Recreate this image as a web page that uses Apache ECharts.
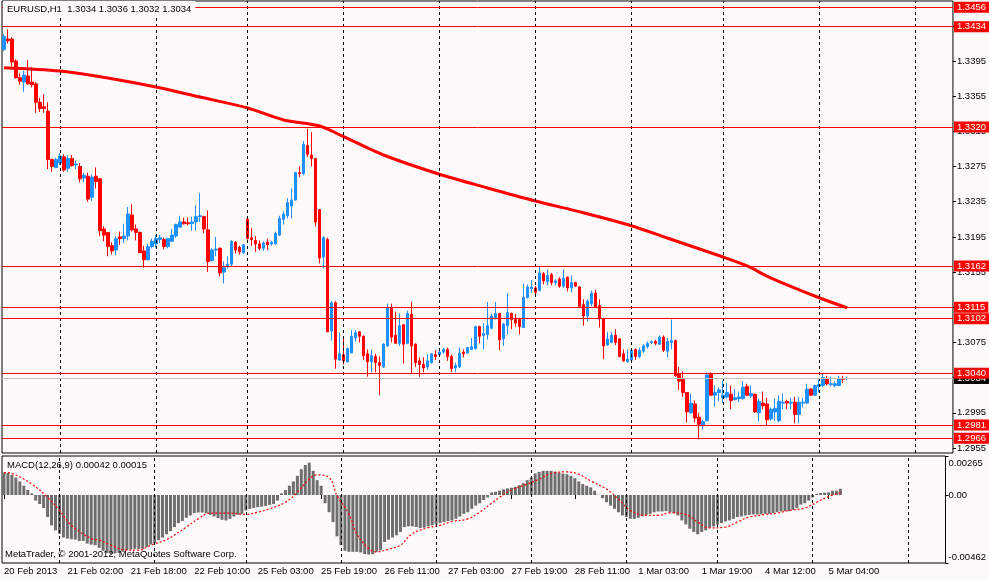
<!DOCTYPE html>
<html>
<head>
<meta charset="utf-8">
<script src="https://cdn.jsdelivr.net/npm/echarts@6/dist/echarts.min.js"></script>
<style>
html, body { margin: 0; padding: 0; background: #fffafa; }
#chart { width: 989px; height: 580px; }
</style>
</head>
<body>
<div id="chart"></div>
<script>
// EURUSD H1 bars, [open, high, low, close]
const ohlc = [
  [1.3408,1.3426,1.3406,1.3423],[1.3420,1.3431,1.3415,1.3418],[1.3420,1.3422,1.3389,1.3394],[1.3395,1.3397,1.3375,1.3376],
  [1.3376,1.3381,1.3368,1.3372],[1.3371,1.3384,1.3360,1.3379],[1.3378,1.3396,1.3368,1.3369],[1.3371,1.3388,1.3365,1.3368],
  [1.3369,1.3371,1.3336,1.3348],[1.3348,1.3353,1.3337,1.3341],[1.3343,1.3357,1.3336,1.3341],[1.3338,1.3348,1.3272,1.3283],
  [1.3283,1.3284,1.3269,1.3275],[1.3274,1.3285,1.3273,1.3283],[1.3279,1.3290,1.3277,1.3287],[1.3286,1.3289,1.3269,1.3271],
  [1.3273,1.3288,1.3269,1.3284],[1.3284,1.3288,1.3275,1.3276],[1.3277,1.3282,1.3272,1.3278],[1.3275,1.3279,1.3257,1.3261],
  [1.3262,1.3268,1.3257,1.3265],[1.3264,1.3268,1.3235,1.3238],[1.3240,1.3266,1.3236,1.3263],[1.3264,1.3274,1.3250,1.3258],
  [1.3261,1.3262,1.3196,1.3202],[1.3204,1.3207,1.3190,1.3197],[1.3200,1.3200,1.3173,1.3184],[1.3185,1.3189,1.3175,1.3179],
  [1.3180,1.3196,1.3174,1.3193],[1.3195,1.3201,1.3186,1.3193],[1.3193,1.3210,1.3188,1.3196],[1.3196,1.3229,1.3191,1.3221],
  [1.3220,1.3232,1.3201,1.3203],[1.3204,1.3209,1.3191,1.3200],[1.3200,1.3201,1.3177,1.3177],[1.3179,1.3185,1.3160,1.3169],
  [1.3169,1.3187,1.3168,1.3184],[1.3184,1.3193,1.3182,1.3190],[1.3187,1.3197,1.3183,1.3193],[1.3192,1.3197,1.3188,1.3194],
  [1.3192,1.3194,1.3181,1.3184],[1.3184,1.3194,1.3182,1.3193],[1.3190,1.3204,1.3190,1.3197],[1.3196,1.3210,1.3194,1.3209],
  [1.3206,1.3219,1.3206,1.3212],[1.3212,1.3217,1.3209,1.3210],[1.3211,1.3217,1.3208,1.3210],[1.3210,1.3218,1.3202,1.3212],
  [1.3212,1.3231,1.3202,1.3218],[1.3218,1.3245,1.3212,1.3219],[1.3218,1.3219,1.3199,1.3204],[1.3203,1.3225,1.3155,1.3167],
  [1.3168,1.3182,1.3167,1.3180],[1.3180,1.3195,1.3173,1.3181],[1.3182,1.3183,1.3150,1.3154],[1.3155,1.3167,1.3142,1.3160],
  [1.3161,1.3173,1.3159,1.3164],[1.3164,1.3191,1.3161,1.3190],[1.3189,1.3190,1.3176,1.3180],[1.3183,1.3185,1.3175,1.3178],
  [1.3177,1.3187,1.3176,1.3186],[1.3215,1.3217,1.3192,1.3193],[1.3194,1.3205,1.3185,1.3192],[1.3191,1.3196,1.3178,1.3187],
  [1.3187,1.3191,1.3180,1.3182],[1.3182,1.3190,1.3179,1.3188],[1.3189,1.3193,1.3180,1.3186],[1.3187,1.3190,1.3185,1.3189],
  [1.3187,1.3201,1.3186,1.3199],[1.3197,1.3219,1.3196,1.3216],[1.3215,1.3224,1.3209,1.3221],[1.3219,1.3239,1.3216,1.3234],
  [1.3230,1.3250,1.3216,1.3237],[1.3237,1.3269,1.3236,1.3268],[1.3268,1.3275,1.3263,1.3267],[1.3267,1.3304,1.3265,1.3300],
  [1.3299,1.3318,1.3286,1.3289],[1.3288,1.3314,1.3275,1.3284],[1.3284,1.3285,1.3207,1.3212],[1.3226,1.3226,1.3165,1.3171],
  [1.3172,1.3196,1.3159,1.3194],[1.3192,1.3194,1.3087,1.3087],[1.3088,1.3122,1.3077,1.3120],[1.3120,1.3122,1.3045,1.3056],
  [1.3055,1.3086,1.3054,1.3062],[1.3061,1.3081,1.3050,1.3054],[1.3053,1.3069,1.3052,1.3068],[1.3063,1.3089,1.3063,1.3082],
  [1.3080,1.3089,1.3076,1.3086],[1.3087,1.3088,1.3075,1.3082],[1.3082,1.3083,1.3055,1.3060],[1.3062,1.3067,1.3036,1.3053],
  [1.3053,1.3067,1.3041,1.3060],[1.3059,1.3062,1.3041,1.3052],[1.3052,1.3059,1.3015,1.3049],[1.3047,1.3074,1.3046,1.3073],
  [1.3071,1.3119,1.3070,1.3114],[1.3114,1.3119,1.3075,1.3081],[1.3083,1.3110,1.3074,1.3074],[1.3074,1.3108,1.3071,1.3094],
  [1.3095,1.3096,1.3051,1.3073],[1.3074,1.3111,1.3073,1.3108],[1.3107,1.3121,1.3039,1.3071],[1.3073,1.3074,1.3047,1.3052],
  [1.3054,1.3058,1.3036,1.3050],[1.3050,1.3058,1.3041,1.3046],[1.3047,1.3062,1.3044,1.3054],[1.3052,1.3063,1.3051,1.3062],
  [1.3061,1.3066,1.3055,1.3059],[1.3061,1.3067,1.3059,1.3064],[1.3064,1.3069,1.3062,1.3067],[1.3067,1.3069,1.3054,1.3059],
  [1.3059,1.3061,1.3041,1.3045],[1.3046,1.3052,1.3041,1.3049],[1.3047,1.3069,1.3046,1.3063],[1.3064,1.3067,1.3058,1.3062],
  [1.3063,1.3070,1.3062,1.3069],[1.3067,1.3080,1.3067,1.3070],[1.3068,1.3094,1.3067,1.3093],[1.3093,1.3094,1.3074,1.3082],
  [1.3083,1.3097,1.3067,1.3085],[1.3084,1.3121,1.3078,1.3094],[1.3091,1.3108,1.3090,1.3105],[1.3102,1.3121,1.3101,1.3108],
  [1.3108,1.3108,1.3066,1.3078],[1.3079,1.3097,1.3071,1.3096],[1.3094,1.3131,1.3084,1.3109],[1.3108,1.3109,1.3090,1.3101],
  [1.3101,1.3107,1.3093,1.3097],[1.3101,1.3103,1.3084,1.3093],[1.3092,1.3142,1.3092,1.3126],[1.3126,1.3141,1.3125,1.3138],
  [1.3136,1.3146,1.3131,1.3138],[1.3137,1.3139,1.3127,1.3132],[1.3134,1.3161,1.3133,1.3154],[1.3153,1.3155,1.3141,1.3145],
  [1.3144,1.3158,1.3140,1.3151],[1.3152,1.3154,1.3140,1.3143],[1.3143,1.3147,1.3140,1.3145],[1.3147,1.3149,1.3137,1.3139],
  [1.3139,1.3158,1.3137,1.3148],[1.3149,1.3150,1.3133,1.3137],[1.3137,1.3151,1.3132,1.3143],[1.3143,1.3144,1.3138,1.3139],
  [1.3138,1.3139,1.3114,1.3116],[1.3118,1.3124,1.3094,1.3105],[1.3105,1.3124,1.3099,1.3122],[1.3119,1.3134,1.3116,1.3131],
  [1.3131,1.3135,1.3114,1.3115],[1.3117,1.3124,1.3092,1.3102],[1.3102,1.3103,1.3056,1.3071],[1.3072,1.3087,1.3071,1.3079],
  [1.3075,1.3087,1.3074,1.3083],[1.3083,1.3090,1.3072,1.3075],[1.3079,1.3080,1.3058,1.3059],[1.3062,1.3067,1.3053,1.3054],
  [1.3053,1.3067,1.3052,1.3056],[1.3055,1.3068,1.3054,1.3066],[1.3067,1.3068,1.3055,1.3059],[1.3059,1.3069,1.3057,1.3066],
  [1.3065,1.3073,1.3063,1.3071],[1.3070,1.3076,1.3068,1.3074],[1.3075,1.3077,1.3073,1.3076],[1.3076,1.3078,1.3072,1.3074],
  [1.3073,1.3083,1.3072,1.3081],[1.3081,1.3083,1.3064,1.3066],[1.3065,1.3080,1.3058,1.3076],[1.3075,1.3101,1.3067,1.3077],
  [1.3077,1.3078,1.3036,1.3037],[1.3039,1.3047,1.3021,1.3031],[1.3033,1.3042,1.3013,1.3018],[1.3018,1.3018,1.2984,1.2996],
  [1.2995,1.3017,1.2994,1.3006],[1.3005,1.3009,1.2984,1.2989],[1.2990,1.2995,1.2966,1.2982],[1.2981,1.2987,1.2976,1.2985],
  [1.2986,1.3041,1.2985,1.3038],[1.3039,1.3041,1.3014,1.3015],[1.3015,1.3026,1.3002,1.3018],[1.3018,1.3024,1.3008,1.3021],
  [1.3012,1.3031,1.3006,1.3015],[1.3013,1.3029,1.3011,1.3018],[1.3016,1.3026,1.2999,1.3009],[1.3010,1.3022,1.3009,1.3012],
  [1.3011,1.3019,1.3007,1.3013],[1.3011,1.3031,1.3010,1.3024],[1.3025,1.3028,1.3014,1.3015],[1.3014,1.3026,1.3012,1.3017],
  [1.3016,1.3017,1.2995,1.2996],[1.2995,1.3011,1.2985,1.3008],[1.3006,1.3019,1.2999,1.3003],[1.3005,1.3012,1.2981,1.2987],
  [1.2988,1.3001,1.2986,1.2999],[1.2996,1.3011,1.2986,1.3000],[1.2986,1.3015,1.2984,1.3008],[1.3006,1.3017,1.2999,1.3007],
  [1.3008,1.3010,1.2999,1.3006],[1.3006,1.3012,1.2999,1.3007],[1.3007,1.3013,1.2983,1.2993],[1.2993,1.3013,1.2983,1.3007],
  [1.3006,1.3012,1.3001,1.3007],[1.3006,1.3028,1.3005,1.3022],[1.3022,1.3023,1.3014,1.3015],[1.3015,1.3027,1.3014,1.3026],
  [1.3025,1.3033,1.3018,1.3027],[1.3026,1.3040,1.3024,1.3035],[1.3034,1.3037,1.3026,1.3028],[1.3027,1.3036,1.3025,1.3028],
  [1.3026,1.3031,1.3024,1.3028],[1.3026,1.3037,1.3025,1.3034],[1.3034,1.3037,1.3029,1.3033],[1.3034,1.3036,1.3032,1.3034]
];

// MACD(12,26,9) main line (histogram), one value per bar
const macdHist = [
  0.00153,0.00150,0.00137,0.00119,0.00092,0.00063,0.00034,0.00011,-0.00038,-0.00061,
  -0.00088,-0.00150,-0.00206,-0.00240,-0.00263,-0.00289,-0.00296,-0.00301,-0.00303,-0.00312,
  -0.00312,-0.00330,-0.00337,-0.00341,-0.00359,-0.00379,-0.00393,-0.00402,-0.00397,-0.00393,
  -0.00386,-0.00375,-0.00370,-0.00366,-0.00366,-0.00366,-0.00352,-0.00337,-0.00325,-0.00307,
  -0.00289,-0.00267,-0.00245,-0.00218,-0.00191,-0.00177,-0.00155,-0.00139,-0.00123,-0.00119,
  -0.00119,-0.00123,-0.00135,-0.00146,-0.00157,-0.00168,-0.00173,-0.00162,-0.00146,-0.00135,
  -0.00128,-0.00105,-0.00094,-0.00088,-0.00083,-0.00079,-0.00074,-0.00067,-0.00061,-0.00038,
  0.00011,0.00034,0.00063,0.00092,0.00130,0.00175,0.00204,0.00220,0.00164,0.00101,
  0.00063,-0.00056,-0.00117,-0.00184,-0.00281,-0.00341,-0.00379,-0.00386,-0.00386,-0.00386,
  -0.00390,-0.00402,-0.00404,-0.00402,-0.00386,-0.00375,-0.00319,-0.00303,-0.00289,-0.00274,
  -0.00251,-0.00218,-0.00213,-0.00213,-0.00218,-0.00224,-0.00222,-0.00213,-0.00206,-0.00200,
  -0.00191,-0.00184,-0.00177,-0.00173,-0.00162,-0.00146,-0.00128,-0.00117,-0.00094,-0.00072,
  -0.00056,-0.00034,-0.00016,0.00018,0.00022,0.00029,0.00038,0.00045,0.00049,0.00056,
  0.00067,0.00081,0.00101,0.00119,0.00146,0.00157,0.00164,0.00164,0.00164,0.00159,
  0.00153,0.00146,0.00141,0.00130,0.00114,0.00092,0.00074,0.00063,0.00052,0.00029,
  0.00002,-0.00022,-0.00049,-0.00072,-0.00094,-0.00117,-0.00139,-0.00150,-0.00162,-0.00162,
  -0.00155,-0.00144,-0.00135,-0.00128,-0.00117,-0.00112,-0.00112,-0.00110,-0.00117,-0.00123,
  -0.00139,-0.00173,-0.00200,-0.00229,-0.00251,-0.00267,-0.00251,-0.00240,-0.00222,-0.00213,
  -0.00200,-0.00191,-0.00180,-0.00173,-0.00162,-0.00150,-0.00146,-0.00139,-0.00135,-0.00132,
  -0.00132,-0.00132,-0.00128,-0.00128,-0.00123,-0.00117,-0.00112,-0.00110,-0.00110,-0.00101,
  -0.00088,-0.00065,-0.00056,-0.00038,-0.00016,0.00007,0.00013,0.00016,0.00018,0.00029,
  0.00029,0.00042
];

// MACD signal line, read at these bars
const signalIdx = [0,2,7,11,14,17,22,24,27,31,34,37,41,46,49,52,57,61,64,67,71,74,77,79,82,84,87,89,92,94,97,
  100,103,107,110,113,117,120,123,125,128,132,135,138,142,145,148,152,155,158,162,165,168,172,175,178,182,185,188,
  192,195,198,202,205,208,211];
const signalVal = [0.00153,0.00146,0.00074,-0.00016,-0.00105,-0.00206,-0.00296,-0.00307,-0.00341,-0.00375,-0.00375,
  -0.00341,-0.00303,-0.00218,-0.00162,-0.00123,-0.00123,-0.00132,-0.00117,-0.00094,-0.00049,0.00018,0.00108,0.00137,
  0.00119,-0.00004,-0.00128,-0.00263,-0.00364,-0.00386,-0.00368,-0.00341,-0.00263,-0.00222,-0.00206,-0.00180,-0.00162,
  -0.00117,-0.00056,-0.00016,0.00034,0.00074,0.00108,0.00146,0.00157,0.00141,0.00096,0.00040,-0.00027,-0.00105,-0.00139,
  -0.00139,-0.00121,-0.00132,-0.00184,-0.00224,-0.00218,-0.00184,-0.00150,-0.00132,-0.00123,-0.00105,-0.00088,-0.00049,
  -0.00011,0.00015];

// long moving average, read at these bars
const maIdx = [0,14,26,38,49,61,70,79,85,95,109,121,133,145,157,166,180,186,192,204,211];
const maVal = [1.33874,1.33836,1.33757,1.33654,1.33540,1.33416,1.33280,1.33211,1.33089,1.32881,1.32662,1.32506,
  1.32358,1.32225,1.32077,1.31937,1.31721,1.31619,1.31481,1.31258,1.31144];

const levels = [1.3456, 1.3434, 1.3320, 1.3162, 1.3115, 1.3102, 1.3040, 1.2981, 1.2966];
const bidLevel = 1.3034;
const priceTicks = [1.2955, 1.2995, 1.3035, 1.3075, 1.3115, 1.3155, 1.3195, 1.3235, 1.3275, 1.3315, 1.3355, 1.3395, 1.3435];
const macdTicks = [-0.00462, 0, 0.00265];
const daySeparators = [14, 38, 61, 85, 109, 133, 157, 180, 204, 228];
const timeIdx = [0, 16, 32, 48, 64, 80, 96, 112, 128, 144, 160, 176, 192, 208];
const timeText = ['20 Feb 2013', '21 Feb 02:00', '21 Feb 18:00', '22 Feb 10:00', '25 Feb 03:00', '25 Feb 19:00',
  '26 Feb 11:00', '27 Feb 03:00', '27 Feb 19:00', '28 Feb 11:00', '1 Mar 03:00', '1 Mar 19:00', '4 Mar 12:00', '5 Mar 04:00'];
const SLOTS = 238; // bars plus the empty shift area on the right

const categories = [];
for (let i = 0; i < SLOTS; i++) categories.push(String(i));

const FONT = 'Tahoma, "Liberation Sans", sans-serif';
const BG = '#fffafa';
const BULL = '#1e90ff';
const BEAR = '#ff0000';

const sepLines = daySeparators.map(i => ({
  xAxis: i,
  lineStyle: { color: '#000', type: [3, 3], width: 1 },
  label: { show: false }
}));

const levelLines = levels.map(v => ({
  yAxis: v,
  lineStyle: { color: '#ff0000', type: 'solid', width: 1 },
  label: { backgroundColor: '#ff0000', color: '#fff' }
}));
levelLines.unshift({
  yAxis: bidLevel,
  lineStyle: { color: '#c0c0c0', type: 'solid', width: 1 },
  label: { backgroundColor: '#000', color: '#fff' }
});

const myChart = echarts.init(document.getElementById('chart'));
const option = {
  animation: false,
  backgroundColor: BG,
  textStyle: { fontFamily: FONT },
  grid: [
    { left: 2, right: 36, top: 1, height: 452, show: true, borderColor: '#000', borderWidth: 1, backgroundColor: 'transparent' },
    { left: 2, right: 36, top: 456, height: 107, show: true, borderColor: '#000', borderWidth: 1, backgroundColor: 'transparent' }
  ],
  xAxis: [
    {
      type: 'category', gridIndex: 0, data: categories, boundaryGap: true,
      axisLine: { show: false }, axisTick: { show: false }, axisLabel: { show: false }, splitLine: { show: false }
    },
    {
      type: 'category', gridIndex: 1, data: categories, boundaryGap: true,
      axisLine: { show: false },
      axisTick: {
        show: true, alignWithLabel: true, length: 4, lineStyle: { color: '#000' },
        interval: (i) => timeIdx.indexOf(i) >= 0
      },
      axisLabel: {
        interval: (i) => timeIdx.indexOf(i) >= 0,
        formatter: (v, i) => timeText[timeIdx.indexOf(i)] || '',
        align: 'left', margin: 3, color: '#000', fontSize: 9.5, fontFamily: FONT
      },
      splitLine: { show: false }
    }
  ],
  yAxis: [
    {
      type: 'value', gridIndex: 0, position: 'right', scale: true,
      min: 1.294924, max: 1.346323,
      axisLine: { show: false }, splitLine: { show: false },
      axisTick: { show: true, length: 3, lineStyle: { color: '#000' }, customValues: priceTicks },
      axisLabel: { customValues: priceTicks, formatter: v => v.toFixed(4), color: '#000', fontSize: 9.5, margin: 4, fontFamily: FONT }
    },
    {
      type: 'value', gridIndex: 1, position: 'right',
      min: -0.00462, max: 0.00265,
      axisLine: { show: false }, splitLine: { show: false },
      axisTick: { show: true, length: 3, lineStyle: { color: '#000' }, customValues: macdTicks },
      axisLabel: {
        customValues: macdTicks, color: '#000', fontSize: 9.5, margin: 3, fontFamily: FONT,
        formatter: v => v === 0 ? '0.00' : (v > 0 ? '{top|' + v.toFixed(5) + '}' : '{bot|' + v.toFixed(5) + '}'),
        rich: {
          top: { padding: [14, 0, 0, 0], fontSize: 9.5, fontFamily: FONT, color: '#000' },
          bot: { padding: [0, 0, 12, 0], fontSize: 9.5, fontFamily: FONT, color: '#000' }
        }
      }
    }
  ],
  series: [
    {
      name: 'EURUSD', type: 'candlestick', xAxisIndex: 0, yAxisIndex: 0,
      barWidth: 3,
      data: ohlc.map(r => [r[0], r[3], r[2], r[1]]),
      itemStyle: { color: BULL, color0: BEAR, borderColor: BULL, borderColor0: BEAR, borderWidth: 1 },
      markLine: {
        silent: true, symbol: ['none', 'none'], animation: false, precision: 4,
        label: {
          show: true, position: 'end', distance: 1,
          formatter: p => Number(p.value).toFixed(4),
          fontSize: 9.5, fontFamily: FONT, padding: [1, 3, 0, 3]
        },
        data: sepLines.concat(levelLines)
      },
      z: 3
    },
    {
      name: 'MA', type: 'line', xAxisIndex: 0, yAxisIndex: 0,
      data: maIdx.map((x, k) => [x, maVal[k]]),
      smooth: 0.3, showSymbol: false,
      lineStyle: { color: '#ff0000', width: 3 },
      z: 4
    },
    {
      name: 'MACD', type: 'bar', xAxisIndex: 1, yAxisIndex: 1,
      data: macdHist, barWidth: 3,
      itemStyle: { color: '#6e6e6e' },
      markLine: {
        silent: true, symbol: ['none', 'none'], animation: false,
        data: sepLines
      }
    },
    {
      name: 'Signal', type: 'line', xAxisIndex: 1, yAxisIndex: 1,
      data: signalIdx.map((x, k) => [x, signalVal[k]]),
      smooth: 0.4, showSymbol: false,
      lineStyle: { color: '#ff0000', width: 1.2, type: [2, 2] },
      z: 4
    }
  ],
  graphic: [
    {
      type: 'text', left: 3, top: 1, z: 10,
      style: {
        text: 'EURUSD,H1  1.3034 1.3036 1.3032 1.3034',
        fill: '#000', font: '9.5px ' + FONT,
        backgroundColor: BG, padding: [3, 4, 3, 4]
      }
    },
    {
      type: 'text', left: 7, top: 460, z: 10,
      style: { text: 'MACD(12,26,9) 0.00042 0.00015', fill: '#000', font: '9.5px ' + FONT }
    },
    {
      type: 'text', left: 5, top: 549, z: 10,
      style: { text: 'MetaTrader, © 2001-2012, MetaQuotes Software Corp.', fill: '#000', font: '9.5px ' + FONT }
    }
  ]
};

myChart.setOption(option);
window.addEventListener('resize', function () {
  myChart.resize();
});
</script>
</body>
</html>
